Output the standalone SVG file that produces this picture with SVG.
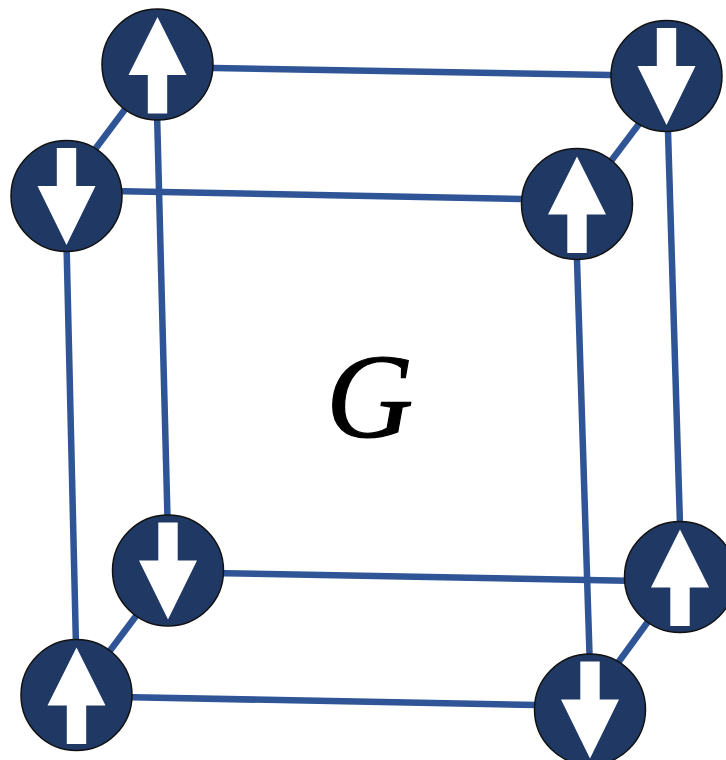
<svg xmlns="http://www.w3.org/2000/svg" width="726" height="760" viewBox="0 0 726 760">
<style>
.edge{stroke:#2f5597;stroke-width:6.500;fill:none}
.disc{fill:#1f3864;stroke:#111;stroke-width:1.500}
.arrow{fill:#fff}
.label{font-family:"Liberation Serif","Times New Roman",serif;font-style:italic;font-size:121px;fill:#000;stroke:#000;stroke-width:1.200}
</style>
<defs>
<g id="up"><circle class="disc" r="55.500"/><path class="arrow" d="M0-47.500L29 10.500H9.700V49H-9.700V10.500H-29Z"/></g>
<g id="down"><circle class="disc" r="55.500"/><path class="arrow" d="M0 49L29-10H9.700V-48H-9.700V-10H-29Z"/></g>
</defs>
<rect width="726" height="760" fill="#fff"/>
<g id="connectors">
<path class="edge" d="M200 67.700L625 75.300"/>
<path class="edge" d="M110 191L535 199.300"/>
<path class="edge" d="M210 573L640 581"/>
<path class="edge" d="M120 697L550 705.300"/>
<path class="edge" d="M156.800 105L167.800 530"/>
<path class="edge" d="M66.300 235L76.200 655"/>
<path class="edge" d="M667.500 115L680.300 535"/>
<path class="edge" d="M576.500 245L590 670"/>
<path class="edge" d="M135 96L90 156"/>
<path class="edge" d="M645 116L605 169"/>
<path class="edge" d="M145 604L100 664"/>
<path class="edge" d="M655 612L612 671"/>
</g>
<g id="node-a"><use href="#up" x="157.500" y="64.500"/></g>
<g id="node-b"><use href="#down" x="66.500" y="196"/></g>
<g id="node-c"><use href="#down" x="666.500" y="76"/></g>
<g id="node-d"><use href="#up" x="577" y="204"/></g>
<g id="node-e"><use href="#down" x="168" y="570.500"/></g>
<g id="node-f"><use href="#up" x="76.500" y="695"/></g>
<g id="node-g"><use href="#up" x="680" y="577"/></g>
<g id="node-h"><use href="#down" x="590" y="709.500"/></g>
<text id="label-g" class="label" x="326" y="437">G</text>
</svg>
